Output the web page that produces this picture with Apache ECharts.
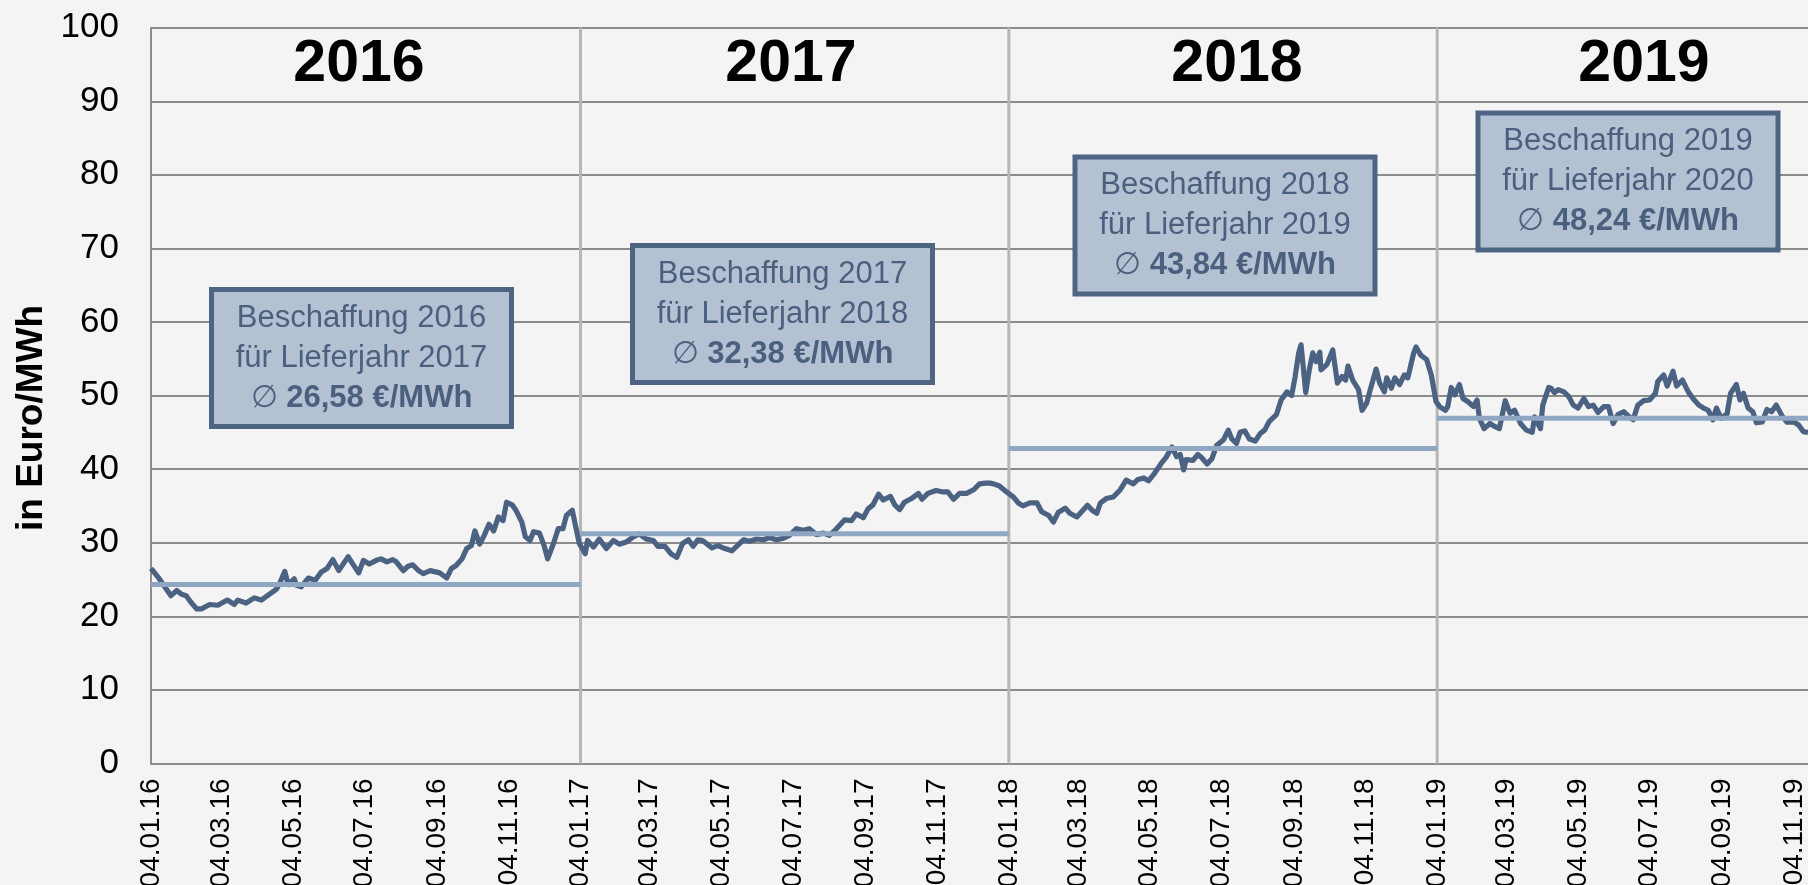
<!DOCTYPE html>
<html><head><meta charset="utf-8">
<script src="https://cdn.jsdelivr.net/npm/echarts@6/dist/echarts.min.js"></script>
<style>html,body{margin:0;padding:0;background:#f4f4f4}#c{width:1808px;height:885px}</style>
</head><body><div id="c"></div><script>
// ---------- DATA ----------
const yearTitles = ['2016', '2017', '2018', '2019'];
const xTickLabels = ['04.01.16','04.03.16','04.05.16','04.07.16','04.09.16','04.11.16',
  '04.01.17','04.03.17','04.05.17','04.07.17','04.09.17','04.11.17',
  '04.01.18','04.03.18','04.05.18','04.07.18','04.09.18','04.11.18',
  '04.01.19','04.03.19','04.05.19','04.07.19','04.09.19','04.11.19'];
const yearBounds = ['04.01.16', '04.01.17', '04.01.18', '04.01.19', '16.11.19'];
const avgLevels = [24.3, 31.2, 42.8, 46.9];
const purchaseYears = ['2016', '2017', '2018', '2019'];
const deliveryYears = ['2017', '2018', '2019', '2020'];
const purchaseAverages = ['26,58', '32,38', '43,84', '48,24'];

const dates2016 = ['2016-01-04','2016-01-11','2016-01-17','2016-01-21','2016-01-26','2016-01-30','2016-02-03','2016-02-07','2016-02-12','2016-02-16','2016-02-23','2016-03-01','2016-03-09','2016-03-15','2016-03-18','2016-03-25','2016-04-01','2016-04-07','2016-04-14','2016-04-20','2016-04-23','2016-04-27','2016-04-30','2016-05-05','2016-05-07','2016-05-11','2016-05-17','2016-05-23','2016-05-28','2016-06-02','2016-06-07','2016-06-12','2016-06-20','2016-06-24','2016-06-29','2016-07-03','2016-07-08','2016-07-14','2016-07-18','2016-07-23','2016-07-28','2016-07-31','2016-08-06','2016-08-10','2016-08-14','2016-08-19','2016-08-23','2016-08-29','2016-09-06','2016-09-12','2016-09-16','2016-09-20','2016-09-25','2016-09-29','2016-10-03','2016-10-06','2016-10-10','2016-10-14','2016-10-18','2016-10-22','2016-10-26','2016-10-30','2016-11-02','2016-11-07','2016-11-10','2016-11-15','2016-11-18','2016-11-22','2016-11-25','2016-11-30','2016-12-04','2016-12-07','2016-12-12','2016-12-16','2016-12-20','2016-12-23','2016-12-28','2016-12-31'];
const prices2016 = [26.5,25.1,23.7,22.8,23.5,23.0,22.8,21.9,21.0,21.0,21.6,21.5,22.2,21.6,22.2,21.8,22.5,22.2,23.0,23.7,24.6,26.1,24.3,25.1,24.2,24.0,25.2,24.9,26.0,26.5,27.7,26.2,28.1,27.1,25.9,27.6,27.1,27.6,27.8,27.4,27.7,27.4,26.2,26.8,27.0,26.2,25.8,26.2,25.9,25.2,26.5,26.9,27.8,29.2,29.6,31.6,29.8,31.0,32.5,31.6,33.5,33.0,35.5,35.1,34.4,32.8,30.8,30.3,31.5,31.3,29.6,27.8,29.9,31.9,31.9,33.7,34.4,32.1];

const dates2017 = ['2017-01-03','2017-01-08','2017-01-10','2017-01-15','2017-01-20','2017-01-26','2017-02-01','2017-02-06','2017-02-12','2017-02-18','2017-02-23','2017-03-01','2017-03-07','2017-03-11','2017-03-17','2017-03-22','2017-03-27','2017-04-01','2017-04-06','2017-04-10','2017-04-14','2017-04-18','2017-04-26','2017-05-01','2017-05-07','2017-05-13','2017-05-17','2017-05-23','2017-05-28','2017-06-03','2017-06-09','2017-06-14','2017-06-20','2017-06-26','2017-07-01','2017-07-07','2017-07-13','2017-07-18','2017-07-24','2017-07-30','2017-08-04','2017-08-09','2017-08-13','2017-08-17','2017-08-23','2017-08-27','2017-09-02','2017-09-06','2017-09-10','2017-09-15','2017-09-19','2017-09-25','2017-09-29','2017-10-03','2017-10-07','2017-10-13','2017-10-19','2017-10-22','2017-10-27','2017-11-03','2017-11-09','2017-11-13','2017-11-18','2017-11-23','2017-11-29','2017-12-05','2017-12-10','2017-12-15','2017-12-19','2017-12-22','2017-12-27'];
const prices2017 = [29.9,28.5,30.3,29.4,30.5,29.2,30.3,29.8,30.1,30.8,31.2,30.5,30.3,29.5,29.5,28.5,28.0,29.9,30.4,29.5,30.4,30.3,29.3,29.6,29.2,28.9,29.5,30.4,30.2,30.5,30.4,30.7,30.4,30.6,31.0,31.9,31.7,31.9,31.1,31.3,31.0,31.7,32.4,33.1,33.0,33.9,33.4,34.6,35.1,36.6,35.8,36.3,35.1,34.5,35.5,36.0,36.7,35.9,36.7,37.1,36.9,36.9,35.9,36.7,36.7,37.2,38.0,38.1,38.1,38.0,37.7];

const dates2018 = ['2018-01-02','2018-01-08','2018-01-12','2018-01-16','2018-01-22','2018-01-28','2018-02-01','2018-02-07','2018-02-11','2018-02-15','2018-02-21','2018-02-25','2018-03-03','2018-03-07','2018-03-12','2018-03-16','2018-03-20','2018-03-23','2018-03-28','2018-04-03','2018-04-09','2018-04-14','2018-04-20','2018-04-24','2018-04-29','2018-05-03','2018-05-08','2018-05-14','2018-05-18','2018-05-23','2018-05-27','2018-05-30','2018-06-02','2018-06-04','2018-06-10','2018-06-14','2018-06-17','2018-06-22','2018-06-26','2018-06-30','2018-07-06','2018-07-10','2018-07-13','2018-07-17','2018-07-20','2018-07-24','2018-07-28','2018-08-02','2018-08-06','2018-08-10','2018-08-14','2018-08-20','2018-08-24','2018-08-29','2018-09-02','2018-09-05','2018-09-08','2018-09-10','2018-09-14','2018-09-17','2018-09-20','2018-09-23','2018-09-26','2018-09-27','2018-10-02','2018-10-07','2018-10-11','2018-10-15','2018-10-18','2018-10-20','2018-10-24','2018-10-29','2018-11-01','2018-11-05','2018-11-08','2018-11-13','2018-11-16','2018-11-20','2018-11-22','2018-11-26','2018-11-29','2018-12-03','2018-12-07','2018-12-10','2018-12-15','2018-12-17','2018-12-21','2018-12-26','2018-12-30'];
const prices2018 = [36.9,36.2,35.4,35.0,35.4,35.4,34.2,33.7,32.8,34.1,34.7,34.0,33.5,34.2,35.1,34.4,34.0,35.4,36.0,36.2,37.2,38.5,38.0,38.6,38.8,38.4,39.4,40.8,41.6,43.0,41.7,42.0,39.9,41.3,41.2,42.0,41.6,40.7,41.4,43.2,44.0,45.3,44.1,43.5,45.0,45.2,44.1,43.8,44.8,45.3,46.5,47.4,49.4,50.5,50.0,52.6,55.8,56.9,50.4,53.5,55.8,54.6,55.9,53.5,54.2,56.2,51.7,52.6,52.1,54.0,52.1,50.8,48.0,49.0,50.8,53.6,51.7,50.5,52.4,51.0,52.4,51.5,52.8,52.4,55.8,56.6,55.5,54.9,52.8];

const dates2019 = ['2019-01-03','2019-01-06','2019-01-11','2019-01-13','2019-01-16','2019-01-19','2019-01-23','2019-01-26','2019-01-30','2019-02-04','2019-02-07','2019-02-09','2019-02-13','2019-02-18','2019-02-22','2019-02-26','2019-03-03','2019-03-07','2019-03-11','2019-03-16','2019-03-21','2019-03-26','2019-03-28','2019-04-02','2019-04-04','2019-04-09','2019-04-11','2019-04-14','2019-04-17','2019-04-22','2019-04-26','2019-04-30','2019-05-04','2019-05-09','2019-05-13','2019-05-17','2019-05-21','2019-05-26','2019-05-30','2019-06-03','2019-06-07','2019-06-12','2019-06-16','2019-06-20','2019-06-24','2019-06-29','2019-07-04','2019-07-09','2019-07-11','2019-07-16','2019-07-19','2019-07-24','2019-07-27','2019-08-01','2019-08-06','2019-08-10','2019-08-15','2019-08-19','2019-08-23','2019-08-27','2019-08-30','2019-09-03','2019-09-08','2019-09-11','2019-09-16','2019-09-19','2019-09-22','2019-09-26','2019-09-30','2019-10-03','2019-10-08','2019-10-12','2019-10-16','2019-10-20','2019-10-25','2019-10-29','2019-11-04','2019-11-08','2019-11-12','2019-11-16'];
const prices2019 = [49.2,48.5,48.0,48.5,51.1,50.1,51.5,49.6,49.2,48.5,49.4,46.9,45.5,46.2,45.8,45.5,49.3,47.6,48.0,46.2,45.3,45.0,47.1,45.5,48.7,51.1,51.0,50.4,50.8,50.5,49.9,48.7,48.3,49.6,48.5,48.7,47.7,48.5,48.5,46.2,47.4,47.8,47.2,46.7,48.7,49.3,49.4,50.3,51.9,52.8,51.3,53.3,51.3,52.1,50.5,49.6,48.7,48.3,48.0,46.7,48.3,46.9,47.5,50.3,51.5,49.4,50.3,48.3,47.8,46.3,46.4,48.1,47.8,48.7,47.2,46.4,46.4,46.0,45.1,45.0];

// ---------- HELPERS ----------
const FONT = '"Liberation Sans", Arial, sans-serif';
function parseDMY(s) { const p = s.split('.').map(Number); return Date.UTC(2000 + p[2], p[1] - 1, p[0]); }
const pad = n => String(n).padStart(2, '0');
function fmt(ts) { const d = new Date(ts); return pad(d.getUTCDate()) + '.' + pad(d.getUTCMonth() + 1) + '.' + String(d.getUTCFullYear()).slice(2); }

const allDates = [].concat(dates2016, dates2017, dates2018, dates2019);
const allPrices = [].concat(prices2016, prices2017, prices2018, prices2019);
const priceData = allDates.map((d, i) => [Date.parse(d), allPrices[i]]);
const boundTs = yearBounds.map(parseDMY);
const tickTs = xTickLabels.map(parseDMY);

const series = [];
// year separators
for (let i = 1; i < 4; i++) {
  series.push({ type: 'line', data: [[boundTs[i], 0], [boundTs[i], 100]], showSymbol: false, silent: true,
    lineStyle: { color: '#b6b6b6', width: 3 }, z: 1, animation: false });
}
series.push({ type: 'line', data: priceData, showSymbol: false, silent: true,
  lineStyle: { color: '#4b6282', width: 5.2, join: 'round' }, z: 2, animation: false });
for (let i = 0; i < 4; i++) {
  series.push({ type: 'line', data: [[boundTs[i], avgLevels[i]], [boundTs[i + 1], avgLevels[i]]], showSymbol: false, silent: true,
    lineStyle: { color: '#8fa7c2', width: 5 }, z: 3, animation: false });
}

// ---------- LAYOUT (annotations) ----------
const titleX = [359, 791, 1237, 1644];
const boxCenters = [[361.5, 358], [782.5, 314], [1225, 225.5], [1628, 181.5]];
const BOX_W = 300, BOX_H = 137;
const graphics = [];
yearTitles.forEach((t, i) => graphics.push({ type: 'text', x: titleX[i], y: 65, z: 20,
  style: { text: t, font: 'bold 59px ' + FONT, fill: '#000', align: 'center', verticalAlign: 'middle', textAlign: 'center', textVerticalAlign: 'middle' } }));
graphics.push({ type: 'text', x: 32, y: 418, rotation: Math.PI / 2, z: 20,
  style: { text: 'in Euro/MWh', font: 'bold 37px ' + FONT, fill: '#000', align: 'center', verticalAlign: 'middle', textAlign: 'center', textVerticalAlign: 'middle' } });
boxCenters.forEach((c, i) => {
  graphics.push({ type: 'rect', z: 20, shape: { x: c[0] - BOX_W / 2, y: c[1] - BOX_H / 2, width: BOX_W, height: BOX_H },
    style: { fill: '#b3c1d3', stroke: '#4d6483', lineWidth: 5 } });
  graphics.push({ type: 'text', x: c[0], y: c[1], z: 21,
    style: { text: 'Beschaffung ' + purchaseYears[i] + '\nfür Lieferjahr ' + deliveryYears[i] + '\n∅ {b|' + purchaseAverages[i] + ' €/MWh}',
      font: '31px ' + FONT, fill: '#4b5f7e', lineHeight: 40, align: 'center', verticalAlign: 'middle', textAlign: 'center', textVerticalAlign: 'middle',
      rich: { b: { fontWeight: 'bold', fontSize: 31, fontFamily: FONT, fill: '#4b5f7e', lineHeight: 40 } } } });
});

const chart = echarts.init(document.getElementById('c'), null, { renderer: 'canvas' });
chart.setOption({
  backgroundColor: '#f4f4f4',
  animation: false,
  grid: { left: 151, right: 0, top: 27.7, bottom: 121.6, containLabel: false, outerBoundsMode: 'none' },
  xAxis: {
    type: 'value', min: boundTs[0], max: boundTs[4],
    axisLine: { show: true, onZero: false, lineStyle: { color: '#8c8c8c', width: 2 } },
    axisTick: { show: false }, splitLine: { show: false },
    axisLabel: { customValues: tickTs, formatter: v => fmt(v), rotate: 90, fontSize: 28, fontFamily: FONT, color: '#000', margin: 15 }
  },
  yAxis: {
    type: 'value', min: 0, max: 100, interval: 10,
    axisLine: { show: true, lineStyle: { color: '#8c8c8c', width: 2 } },
    axisTick: { show: false },
    splitLine: { lineStyle: { color: '#8c8c8c', width: 2 } },
    axisLabel: { fontSize: 35, fontFamily: FONT, color: '#000', margin: 32 }
  },
  series: series,
  graphic: graphics
});
</script></body></html>
